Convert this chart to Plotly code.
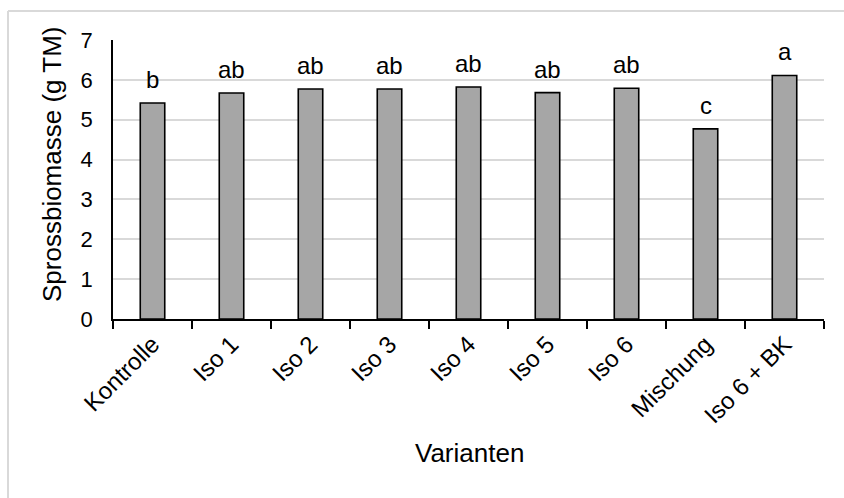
import plotly.graph_objects as go

# Data
varianten = ["Kontrolle", "Iso 1", "Iso 2", "Iso 3", "Iso 4", "Iso 5", "Iso 6", "Mischung", "Iso 6 + BK"]
sprossbiomasse = [5.42, 5.67, 5.77, 5.77, 5.82, 5.68, 5.79, 4.77, 6.11]
signifikanz = ["b", "ab", "ab", "ab", "ab", "ab", "ab", "c", "a"]
y_ticks = [0, 1, 2, 3, 4, 5, 6, 7]

W, H = 844, 498
ML, MR, MT, MB = 113, 20, 40, 179
PW, PH = W - ML - MR, H - MT - MB

FONT = "Liberation Sans, Arial, sans-serif"


def px_to_paper_x(px):
    return (px - ML) / PW


def px_to_paper_y(py):
    return (H - MB - py) / PH


fig = go.Figure()
fig.add_trace(go.Bar(
    x=varianten,
    y=sprossbiomasse,
    marker=dict(color="#a6a6a6", line=dict(color="#000000", width=1.6)),
    width=0.31,
    hoverinfo="x+y",
))

annotations = []
for v, val, lab in zip(varianten, sprossbiomasse, signifikanz):
    annotations.append(dict(
        x=v, y=val, xref="x", yref="y", text=lab, showarrow=False,
        yanchor="bottom", yshift=8,
        font=dict(family=FONT, size=24, color="#000000"),
    ))

# axis titles
annotations.append(dict(
    x=px_to_paper_x(52), y=px_to_paper_y(164), xref="paper", yref="paper",
    text="Sprossbiomasse (g TM)", textangle=-90, showarrow=False,
    xanchor="center", yanchor="middle",
    font=dict(family=FONT, size=26, color="#000000"),
))
annotations.append(dict(
    x=px_to_paper_x(469), y=px_to_paper_y(453), xref="paper", yref="paper",
    text="Varianten", showarrow=False,
    xanchor="center", yanchor="middle",
    font=dict(family=FONT, size=26, color="#000000"),
))

# chart frame (top and left edges)
frame = "#d9d9d9"
shapes = [
    dict(type="line", xref="paper", yref="paper",
         x0=px_to_paper_x(8), x1=px_to_paper_x(W + 5),
         y0=px_to_paper_y(11), y1=px_to_paper_y(11),
         line=dict(color=frame, width=2)),
    dict(type="line", xref="paper", yref="paper",
         x0=px_to_paper_x(8), x1=px_to_paper_x(8),
         y0=px_to_paper_y(11), y1=px_to_paper_y(H + 5),
         line=dict(color=frame, width=2)),
]

fig.update_layout(
    width=W, height=H,
    margin=dict(l=ML, r=MR, t=MT, b=MB, pad=0),
    paper_bgcolor="#ffffff", plot_bgcolor="#ffffff",
    showlegend=False,
    annotations=annotations,
    shapes=shapes,
    font=dict(family=FONT, color="#000000"),
)
fig.update_xaxes(
    type="category",
    showline=True, linecolor="#000000", linewidth=1.6,
    ticks="outside", tickson="boundaries", ticklen=8, tickwidth=1.6, tickcolor="#000000",
    tickangle=-45,
    tickfont=dict(family=FONT, size=24, color="#000000"),
    showgrid=False,
)
fig.update_yaxes(
    range=[0, 7], tickvals=y_ticks,
    showline=True, linecolor="#000000", linewidth=1.6,
    ticks="", ticklabelstandoff=14,
    tickfont=dict(family=FONT, size=22, color="#000000"),
    showgrid=True, gridcolor="#d9d9d9", gridwidth=1.6,
    zeroline=False,
)

fig.write_html("out.html")
